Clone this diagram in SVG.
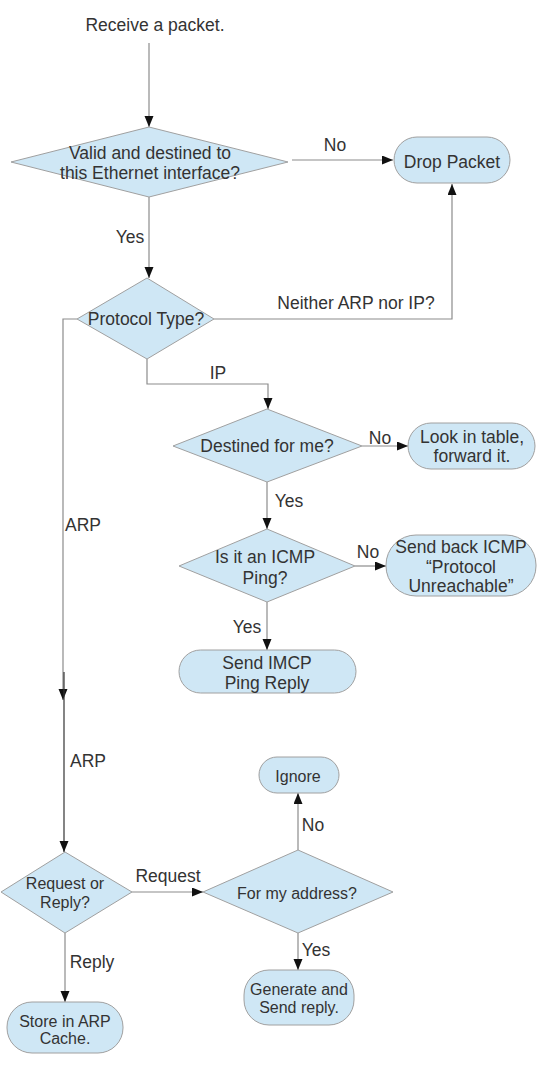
<svg xmlns="http://www.w3.org/2000/svg" width="556" height="1066" viewBox="0 0 556 1066">
<style>
  .shape { fill: #cfe7f5; stroke: #a0a0a0; stroke-width: 1; }
  .t { font-family: "Liberation Sans", Arial, sans-serif; font-size: 17.5px; fill: #333333; text-anchor: middle; }
  .s { font-size: 16px; }
  .lbl { font-family: "Liberation Sans", Arial, sans-serif; font-size: 17.5px; fill: #333333; text-anchor: middle; }
  .conn { fill: none; stroke: #8c8c8c; stroke-width: 1.2; }
  .dark { stroke: #333333; }
</style>
<defs>
  <marker id="arr" markerUnits="userSpaceOnUse" markerWidth="12" markerHeight="10" refX="11" refY="4.5" orient="auto">
    <path d="M0,0 L11,4.5 L0,9 z" fill="#111111"/>
  </marker>
</defs>

<g id="connectors">
  <path class="conn" d="M149,43 V127" marker-end="url(#arr)"/>
  <path class="conn" d="M292,160 H393" marker-end="url(#arr)"/>
  <text class="lbl" x="335" y="151">No</text>
  <path class="conn" d="M149,197 V278" marker-end="url(#arr)"/>
  <text class="lbl" x="130" y="243">Yes</text>
  <path class="conn" d="M214,319 H452 V184" marker-end="url(#arr)"/>
  <text class="lbl" x="356" y="309">Neither ARP nor IP?</text>
  <path class="conn" d="M147,359 V384 H268 V409" marker-end="url(#arr)"/>
  <text class="lbl" x="218" y="379">IP</text>
  <path class="conn" d="M362,446 H408" marker-end="url(#arr)"/>
  <text class="lbl" x="380" y="444">No</text>
  <path class="conn" d="M267,482 V529" marker-end="url(#arr)"/>
  <text class="lbl" x="289" y="507">Yes</text>
  <path class="conn" d="M355,566 H386" marker-end="url(#arr)"/>
  <text class="lbl" x="368" y="558">No</text>
  <path class="conn" d="M267,602 V650" marker-end="url(#arr)"/>
  <text class="lbl" x="247" y="633">Yes</text>
  <path class="conn" d="M77,319 H63 V700" marker-end="url(#arr)"/>
  <text class="lbl" x="83" y="531">ARP</text>
  <path class="conn dark" d="M64,672 V852" marker-end="url(#arr)"/>
  <text class="lbl s" x="88" y="767">ARP</text>
  <path class="conn" d="M132,892 H203" marker-end="url(#arr)"/>
  <text class="lbl s" x="168" y="882">Request</text>
  <path class="conn" d="M298,850 V793" marker-end="url(#arr)"/>
  <text class="lbl s" x="313" y="831">No</text>
  <path class="conn" d="M298,933 V970" marker-end="url(#arr)"/>
  <text class="lbl s" x="316" y="956">Yes</text>
  <path class="conn" d="M65,933 V1002" marker-end="url(#arr)"/>
  <text class="lbl s" x="92" y="968">Reply</text>
</g>

<g id="receive">
  <text class="t" x="155" y="31">Receive a packet.</text>
</g>

<g id="valid">
  <polygon class="shape" points="11,162 149,127 288,162 149,197"/>
  <text class="t" x="150" y="159">Valid and destined to</text>
  <text class="t" x="150" y="179">this Ethernet interface?</text>
</g>

<g id="drop">
  <rect class="shape" x="394" y="137" width="116" height="46" rx="23"/>
  <text class="t" x="452" y="168">Drop Packet</text>
</g>

<g id="protocol">
  <polygon class="shape" points="77,319 147,278 214,319 147,359"/>
  <text class="t" x="146" y="325">Protocol Type?</text>
</g>

<g id="destined">
  <polygon class="shape" points="173,446 267,409 362,446 267,482"/>
  <text class="t" x="267" y="452">Destined for me?</text>
</g>

<g id="lookup">
  <rect class="shape" x="408" y="423" width="127" height="46" rx="23"/>
  <text class="t" x="472" y="443">Look in table,</text>
  <text class="t" x="472" y="462">forward it.</text>
</g>

<g id="icmp">
  <polygon class="shape" points="179,566 267,529 355,566 267,602"/>
  <text class="t" x="265" y="563">Is it an ICMP</text>
  <text class="t" x="265" y="584">Ping?</text>
</g>

<g id="unreachable">
  <rect class="shape" x="386" y="535" width="150" height="61" rx="30"/>
  <text class="t" x="461" y="553">Send back ICMP</text>
  <text class="t" x="461" y="573">“Protocol</text>
  <text class="t" x="461" y="592">Unreachable”</text>
</g>

<g id="pingreply">
  <rect class="shape" x="179" y="650" width="177" height="43" rx="21.5"/>
  <text class="t" x="267" y="669">Send IMCP</text>
  <text class="t" x="267" y="689">Ping Reply</text>
</g>

<g id="reqrep">
  <polygon class="shape" points="1,892 65,852 132,892 65,933"/>
  <text class="t s" x="65" y="889">Request or</text>
  <text class="t s" x="65" y="908">Reply?</text>
</g>

<g id="myaddr">
  <polygon class="shape" points="203,892 298,850 393,892 298,933"/>
  <text class="t s" x="297" y="899">For my address?</text>
</g>

<g id="ignore">
  <rect class="shape" x="259" y="757" width="80" height="36" rx="18"/>
  <text class="t s" x="298" y="782">Ignore</text>
</g>

<g id="generate">
  <rect class="shape" x="244" y="970" width="110" height="55" rx="25"/>
  <text class="t s" x="299" y="995">Generate and</text>
  <text class="t s" x="299" y="1013">Send reply.</text>
</g>

<g id="store">
  <rect class="shape" x="7" y="1002" width="116" height="51" rx="25"/>
  <text class="t s" x="65" y="1027">Store in ARP</text>
  <text class="t s" x="65" y="1044">Cache.</text>
</g>
</svg>
